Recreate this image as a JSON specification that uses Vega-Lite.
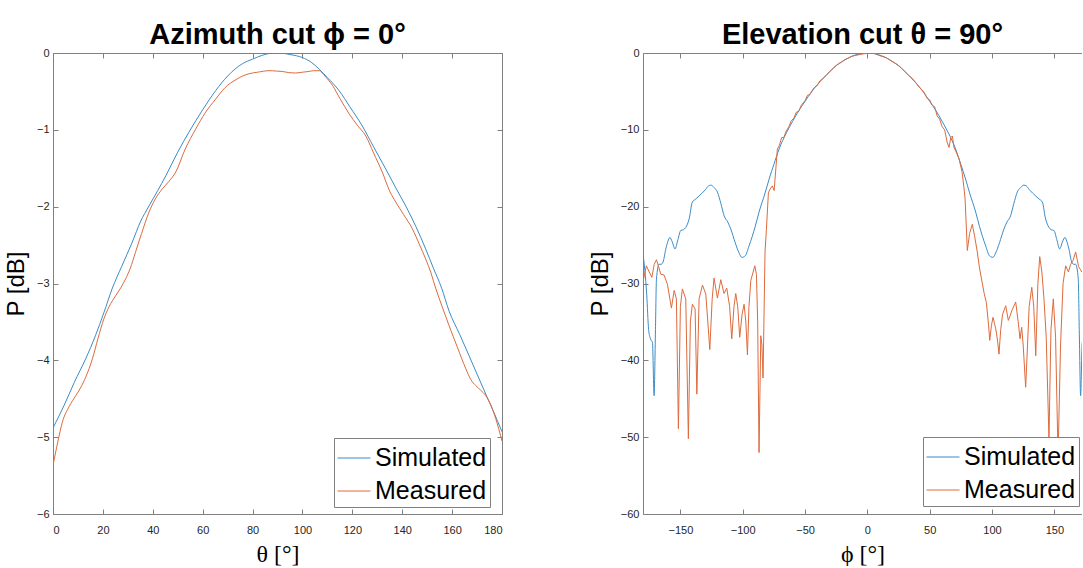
{
  "$schema": "https://vega.github.io/schema/vega-lite/v6.json",
  "background": "white",
  "padding": {"left": 4, "top": 21, "right": 0, "bottom": 0},
  "config": {
    "view": {"stroke": null},
    "font": "Liberation Sans",
    "axis": {"grid": false, "domainColor": "#808080", "tickColor": "#808080", "labelColor": "#262626", "labelFont": "Liberation Sans", "labelFontSize": 11, "tickSize": -5, "domainWidth": 1, "tickWidth": 1, "titleColor": "#000000", "titleFontWeight": "normal"},
    "title": {"fontSize": 29, "fontWeight": "bold", "color": "#000000", "font": "Liberation Sans", "offset": -3},
    "legend": {"orient": "none", "title": null, "symbolType": "stroke", "symbolSize": 1089, "symbolStrokeWidth": 1, "labelFontSize": 25, "labelFont": "Liberation Sans", "labelColor": "#000000", "fillColor": "#ffffff", "strokeColor": "#808080", "padding": 3, "rowPadding": 3, "labelOffset": 4}
  },
  "datasets": {
    "az": [
      {"theta": 0, "P": -4.88, "series": "Simulated"}, {"theta": 4.4, "P": -4.59, "series": "Simulated"}, {"theta": 8.5, "P": -4.29, "series": "Simulated"}, {"theta": 13.1, "P": -3.98, "series": "Simulated"}, {"theta": 17, "P": -3.68, "series": "Simulated"}, {"theta": 20.4, "P": -3.38, "series": "Simulated"}, {"theta": 23.8, "P": -3.06, "series": "Simulated"}, {"theta": 27.5, "P": -2.78, "series": "Simulated"}, {"theta": 31.8, "P": -2.46, "series": "Simulated"}, {"theta": 35, "P": -2.2, "series": "Simulated"}, {"theta": 38.5, "P": -1.99, "series": "Simulated"}, {"theta": 42, "P": -1.79, "series": "Simulated"}, {"theta": 45.2, "P": -1.6, "series": "Simulated"}, {"theta": 50, "P": -1.29, "series": "Simulated"}, {"theta": 54.5, "P": -1.03, "series": "Simulated"}, {"theta": 60, "P": -0.74, "series": "Simulated"}, {"theta": 65.2, "P": -0.49, "series": "Simulated"}, {"theta": 70, "P": -0.3, "series": "Simulated"}, {"theta": 75.9, "P": -0.14, "series": "Simulated"}, {"theta": 80, "P": -0.08, "series": "Simulated"}, {"theta": 83.9, "P": -0.03, "series": "Simulated"}, {"theta": 87, "P": -0.005, "series": "Simulated"}, {"theta": 90.6, "P": 0, "series": "Simulated"}, {"theta": 95, "P": -0.02, "series": "Simulated"}, {"theta": 100, "P": -0.06, "series": "Simulated"}, {"theta": 103.5, "P": -0.12, "series": "Simulated"}, {"theta": 106.7, "P": -0.21, "series": "Simulated"}, {"theta": 110, "P": -0.32, "series": "Simulated"}, {"theta": 114.7, "P": -0.49, "series": "Simulated"}, {"theta": 119, "P": -0.7, "series": "Simulated"}, {"theta": 124, "P": -0.95, "series": "Simulated"}, {"theta": 128.5, "P": -1.22, "series": "Simulated"}, {"theta": 133.4, "P": -1.51, "series": "Simulated"}, {"theta": 137.5, "P": -1.76, "series": "Simulated"}, {"theta": 141.4, "P": -1.99, "series": "Simulated"}, {"theta": 145.5, "P": -2.26, "series": "Simulated"}, {"theta": 149.4, "P": -2.55, "series": "Simulated"}, {"theta": 152.5, "P": -2.8, "series": "Simulated"}, {"theta": 155.8, "P": -3.06, "series": "Simulated"}, {"theta": 158.8, "P": -3.36, "series": "Simulated"}, {"theta": 163, "P": -3.66, "series": "Simulated"}, {"theta": 166.8, "P": -3.94, "series": "Simulated"}, {"theta": 170, "P": -4.18, "series": "Simulated"}, {"theta": 173.5, "P": -4.44, "series": "Simulated"}, {"theta": 176.5, "P": -4.66, "series": "Simulated"}, {"theta": 180, "P": -4.93, "series": "Simulated"},
      {"theta": 0, "P": -5.37, "series": "Measured"}, {"theta": 2, "P": -5.05, "series": "Measured"}, {"theta": 3.7, "P": -4.81, "series": "Measured"}, {"theta": 6.5, "P": -4.6, "series": "Measured"}, {"theta": 9.1, "P": -4.46, "series": "Measured"}, {"theta": 11, "P": -4.36, "series": "Measured"}, {"theta": 13.1, "P": -4.22, "series": "Measured"}, {"theta": 15.8, "P": -3.98, "series": "Measured"}, {"theta": 18, "P": -3.72, "series": "Measured"}, {"theta": 20.4, "P": -3.46, "series": "Measured"}, {"theta": 22.5, "P": -3.3, "series": "Measured"}, {"theta": 25.1, "P": -3.16, "series": "Measured"}, {"theta": 27.1, "P": -3.06, "series": "Measured"}, {"theta": 29.1, "P": -2.94, "series": "Measured"}, {"theta": 31, "P": -2.8, "series": "Measured"}, {"theta": 33, "P": -2.6, "series": "Measured"}, {"theta": 35.5, "P": -2.35, "series": "Measured"}, {"theta": 38.5, "P": -2.07, "series": "Measured"}, {"theta": 41, "P": -1.9, "series": "Measured"}, {"theta": 43.8, "P": -1.77, "series": "Measured"}, {"theta": 46.5, "P": -1.67, "series": "Measured"}, {"theta": 49.2, "P": -1.55, "series": "Measured"}, {"theta": 53, "P": -1.25, "series": "Measured"}, {"theta": 57.2, "P": -0.99, "series": "Measured"}, {"theta": 61, "P": -0.78, "series": "Measured"}, {"theta": 65.2, "P": -0.6, "series": "Measured"}, {"theta": 69, "P": -0.45, "series": "Measured"}, {"theta": 73.2, "P": -0.35, "series": "Measured"}, {"theta": 76, "P": -0.3, "series": "Measured"}, {"theta": 78.6, "P": -0.27, "series": "Measured"}, {"theta": 82, "P": -0.25, "series": "Measured"}, {"theta": 86.6, "P": -0.23, "series": "Measured"}, {"theta": 89.5, "P": -0.235, "series": "Measured"}, {"theta": 91.9, "P": -0.24, "series": "Measured"}, {"theta": 94.5, "P": -0.255, "series": "Measured"}, {"theta": 97.3, "P": -0.26, "series": "Measured"}, {"theta": 100, "P": -0.25, "series": "Measured"}, {"theta": 102.6, "P": -0.24, "series": "Measured"}, {"theta": 104.5, "P": -0.23, "series": "Measured"}, {"theta": 106.7, "P": -0.23, "series": "Measured"}, {"theta": 109, "P": -0.3, "series": "Measured"}, {"theta": 112, "P": -0.42, "series": "Measured"}, {"theta": 115, "P": -0.59, "series": "Measured"}, {"theta": 118.7, "P": -0.79, "series": "Measured"}, {"theta": 122, "P": -0.94, "series": "Measured"}, {"theta": 125.4, "P": -1.08, "series": "Measured"}, {"theta": 128.5, "P": -1.3, "series": "Measured"}, {"theta": 132, "P": -1.55, "series": "Measured"}, {"theta": 135, "P": -1.8, "series": "Measured"}, {"theta": 137.4, "P": -1.94, "series": "Measured"}, {"theta": 140.5, "P": -2.1, "series": "Measured"}, {"theta": 144.1, "P": -2.29, "series": "Measured"}, {"theta": 147, "P": -2.5, "series": "Measured"}, {"theta": 149.4, "P": -2.68, "series": "Measured"}, {"theta": 151.5, "P": -2.86, "series": "Measured"}, {"theta": 153.4, "P": -3.06, "series": "Measured"}, {"theta": 156, "P": -3.3, "series": "Measured"}, {"theta": 158.8, "P": -3.55, "series": "Measured"}, {"theta": 162, "P": -3.82, "series": "Measured"}, {"theta": 165.5, "P": -4.11, "series": "Measured"}, {"theta": 167.5, "P": -4.25, "series": "Measured"}, {"theta": 169.5, "P": -4.33, "series": "Measured"}, {"theta": 171.5, "P": -4.39, "series": "Measured"}, {"theta": 173.5, "P": -4.46, "series": "Measured"}, {"theta": 175.5, "P": -4.58, "series": "Measured"}, {"theta": 177.5, "P": -4.76, "series": "Measured"}, {"theta": 180, "P": -5.05, "series": "Measured"}
    ],
    "el": [
      {"phi": -180, "P": -26.2, "series": "Simulated"}, {"phi": -178.5, "P": -28.3, "series": "Simulated"}, {"phi": -177, "P": -31.5, "series": "Simulated"}, {"phi": -175.5, "P": -36.0, "series": "Simulated"}, {"phi": -174, "P": -37.2, "series": "Simulated"}, {"phi": -172.4, "P": -37.7, "series": "Simulated"}, {"phi": -171.1, "P": -44.6, "series": "Simulated"}, {"phi": -170, "P": -36, "series": "Simulated"}, {"phi": -169.2, "P": -29.4, "series": "Simulated"}, {"phi": -167.1, "P": -27.5, "series": "Simulated"}, {"phi": -165.5, "P": -27.5, "series": "Simulated"}, {"phi": -163.9, "P": -27.2, "series": "Simulated"}, {"phi": -161.7, "P": -25.5, "series": "Simulated"}, {"phi": -160, "P": -24.5, "series": "Simulated"}, {"phi": -158.5, "P": -24.0, "series": "Simulated"}, {"phi": -156.5, "P": -24.6, "series": "Simulated"}, {"phi": -154.3, "P": -25.5, "series": "Simulated"}, {"phi": -152, "P": -24.3, "series": "Simulated"}, {"phi": -149.7, "P": -23.1, "series": "Simulated"}, {"phi": -147.5, "P": -23.0, "series": "Simulated"}, {"phi": -145.7, "P": -22.7, "series": "Simulated"}, {"phi": -143, "P": -21.6, "series": "Simulated"}, {"phi": -140.4, "P": -19.4, "series": "Simulated"}, {"phi": -137.7, "P": -19.0, "series": "Simulated"}, {"phi": -135, "P": -18.6, "series": "Simulated"}, {"phi": -130, "P": -17.8, "series": "Simulated"}, {"phi": -127.5, "P": -17.3, "series": "Simulated"}, {"phi": -125.6, "P": -17.2, "series": "Simulated"}, {"phi": -123, "P": -17.5, "series": "Simulated"}, {"phi": -120.3, "P": -18.1, "series": "Simulated"}, {"phi": -117.5, "P": -19.6, "series": "Simulated"}, {"phi": -114.9, "P": -21.2, "series": "Simulated"}, {"phi": -112, "P": -22.0, "series": "Simulated"}, {"phi": -109.6, "P": -22.9, "series": "Simulated"}, {"phi": -106, "P": -24.7, "series": "Simulated"}, {"phi": -103, "P": -26.0, "series": "Simulated"}, {"phi": -100.7, "P": -26.6, "series": "Simulated"}, {"phi": -98, "P": -26.4, "series": "Simulated"}, {"phi": -94.9, "P": -25.1, "series": "Simulated"}, {"phi": -90, "P": -22.6, "series": "Simulated"}, {"phi": -86.9, "P": -20.7, "series": "Simulated"}, {"phi": -82, "P": -18.2, "series": "Simulated"}, {"phi": -78.8, "P": -16.4, "series": "Simulated"}, {"phi": -75, "P": -14.5, "series": "Simulated"}, {"phi": -70.8, "P": -12.5, "series": "Simulated"}, {"phi": -65, "P": -10.4, "series": "Simulated"}, {"phi": -60, "P": -8.9, "series": "Simulated"}, {"phi": -55, "P": -7.5, "series": "Simulated"}, {"phi": -50, "P": -6.3, "series": "Simulated"}, {"phi": -45, "P": -5.1, "series": "Simulated"}, {"phi": -40, "P": -4.1, "series": "Simulated"}, {"phi": -35, "P": -3.2, "series": "Simulated"}, {"phi": -30, "P": -2.4, "series": "Simulated"}, {"phi": -25, "P": -1.65, "series": "Simulated"}, {"phi": -20, "P": -1.1, "series": "Simulated"}, {"phi": -15, "P": -0.62, "series": "Simulated"}, {"phi": -10, "P": -0.28, "series": "Simulated"}, {"phi": -5, "P": -0.07, "series": "Simulated"}, {"phi": 0, "P": 0, "series": "Simulated"},
      {"phi": 5, "P": -0.07, "series": "Simulated"}, {"phi": 10, "P": -0.28, "series": "Simulated"}, {"phi": 15, "P": -0.62, "series": "Simulated"}, {"phi": 20, "P": -1.1, "series": "Simulated"}, {"phi": 25, "P": -1.65, "series": "Simulated"}, {"phi": 30, "P": -2.4, "series": "Simulated"}, {"phi": 35, "P": -3.2, "series": "Simulated"}, {"phi": 40, "P": -4.1, "series": "Simulated"}, {"phi": 45, "P": -5.1, "series": "Simulated"}, {"phi": 50, "P": -6.3, "series": "Simulated"}, {"phi": 55, "P": -7.5, "series": "Simulated"}, {"phi": 60, "P": -8.9, "series": "Simulated"}, {"phi": 65, "P": -10.4, "series": "Simulated"}, {"phi": 70.8, "P": -12.5, "series": "Simulated"}, {"phi": 75, "P": -14.5, "series": "Simulated"}, {"phi": 78.8, "P": -16.4, "series": "Simulated"}, {"phi": 82, "P": -18.2, "series": "Simulated"}, {"phi": 86.9, "P": -20.7, "series": "Simulated"}, {"phi": 90, "P": -22.6, "series": "Simulated"}, {"phi": 94.9, "P": -25.1, "series": "Simulated"}, {"phi": 98, "P": -26.4, "series": "Simulated"}, {"phi": 100.7, "P": -26.6, "series": "Simulated"}, {"phi": 103, "P": -26.0, "series": "Simulated"}, {"phi": 106, "P": -24.7, "series": "Simulated"}, {"phi": 109.6, "P": -22.9, "series": "Simulated"}, {"phi": 112, "P": -22.0, "series": "Simulated"}, {"phi": 114.9, "P": -21.2, "series": "Simulated"}, {"phi": 117.5, "P": -19.6, "series": "Simulated"}, {"phi": 120.3, "P": -18.1, "series": "Simulated"}, {"phi": 123, "P": -17.5, "series": "Simulated"}, {"phi": 125.6, "P": -17.2, "series": "Simulated"}, {"phi": 127.5, "P": -17.3, "series": "Simulated"}, {"phi": 130, "P": -17.8, "series": "Simulated"}, {"phi": 135, "P": -18.6, "series": "Simulated"}, {"phi": 137.7, "P": -19.0, "series": "Simulated"}, {"phi": 140.4, "P": -19.4, "series": "Simulated"}, {"phi": 143, "P": -21.6, "series": "Simulated"}, {"phi": 145.7, "P": -22.7, "series": "Simulated"}, {"phi": 147.5, "P": -23.0, "series": "Simulated"}, {"phi": 149.7, "P": -23.1, "series": "Simulated"}, {"phi": 152, "P": -24.3, "series": "Simulated"}, {"phi": 154.3, "P": -25.5, "series": "Simulated"}, {"phi": 156.5, "P": -24.6, "series": "Simulated"}, {"phi": 158.5, "P": -24.0, "series": "Simulated"}, {"phi": 160, "P": -24.5, "series": "Simulated"}, {"phi": 161.7, "P": -25.5, "series": "Simulated"}, {"phi": 163.9, "P": -27.2, "series": "Simulated"}, {"phi": 165.5, "P": -27.5, "series": "Simulated"}, {"phi": 167.1, "P": -27.5, "series": "Simulated"}, {"phi": 169.2, "P": -29.4, "series": "Simulated"}, {"phi": 170, "P": -36, "series": "Simulated"}, {"phi": 171.1, "P": -44.6, "series": "Simulated"}, {"phi": 172.4, "P": -37.7, "series": "Simulated"}, {"phi": 174, "P": -37.2, "series": "Simulated"}, {"phi": 175.5, "P": -36.0, "series": "Simulated"},
      {"phi": -180, "P": -29.8, "series": "Measured"}, {"phi": -177.3, "P": -27.7, "series": "Measured"}, {"phi": -175, "P": -28.5, "series": "Measured"}, {"phi": -172.9, "P": -29.2, "series": "Measured"}, {"phi": -171, "P": -27.5, "series": "Measured"}, {"phi": -169.2, "P": -26.9, "series": "Measured"}, {"phi": -167.5, "P": -27.8, "series": "Measured"}, {"phi": -165.7, "P": -28.8, "series": "Measured"}, {"phi": -163.1, "P": -28.9, "series": "Measured"}, {"phi": -160.4, "P": -30.1, "series": "Measured"}, {"phi": -157.2, "P": -33.2, "series": "Measured"}, {"phi": -155, "P": -30.9, "series": "Measured"}, {"phi": -153.2, "P": -32.0, "series": "Measured"}, {"phi": -151.6, "P": -48.9, "series": "Measured"}, {"phi": -150, "P": -33, "series": "Measured"}, {"phi": -148.4, "P": -30.7, "series": "Measured"}, {"phi": -145.7, "P": -32.0, "series": "Measured"}, {"phi": -143.6, "P": -50.2, "series": "Measured"}, {"phi": -142, "P": -35, "series": "Measured"}, {"phi": -140.4, "P": -32.7, "series": "Measured"}, {"phi": -138.2, "P": -33.3, "series": "Measured"}, {"phi": -136.8, "P": -44.4, "series": "Measured"}, {"phi": -135, "P": -32.0, "series": "Measured"}, {"phi": -132.3, "P": -30.2, "series": "Measured"}, {"phi": -129.6, "P": -31.4, "series": "Measured"}, {"phi": -126.4, "P": -38.6, "series": "Measured"}, {"phi": -124.5, "P": -32, "series": "Measured"}, {"phi": -123, "P": -29.3, "series": "Measured"}, {"phi": -120.3, "P": -31.9, "series": "Measured"}, {"phi": -117.6, "P": -29.5, "series": "Measured"}, {"phi": -115, "P": -31.3, "series": "Measured"}, {"phi": -112.8, "P": -30.6, "series": "Measured"}, {"phi": -110.5, "P": -33, "series": "Measured"}, {"phi": -108.8, "P": -37.2, "series": "Measured"}, {"phi": -107, "P": -33, "series": "Measured"}, {"phi": -105.6, "P": -31.3, "series": "Measured"}, {"phi": -104, "P": -33, "series": "Measured"}, {"phi": -102.4, "P": -37.0, "series": "Measured"}, {"phi": -100.5, "P": -34, "series": "Measured"}, {"phi": -98.9, "P": -32.7, "series": "Measured"}, {"phi": -97.5, "P": -35, "series": "Measured"}, {"phi": -96.2, "P": -39.3, "series": "Measured"}, {"phi": -95, "P": -33, "series": "Measured"}, {"phi": -93.5, "P": -29.6, "series": "Measured"}, {"phi": -90.3, "P": -27.7, "series": "Measured"}, {"phi": -89, "P": -28.8, "series": "Measured"}, {"phi": -88, "P": -35, "series": "Measured"}, {"phi": -86.9, "P": -52.0, "series": "Measured"}, {"phi": -85.5, "P": -36.8, "series": "Measured"}, {"phi": -84.6, "P": -38, "series": "Measured"}, {"phi": -83.7, "P": -42.3, "series": "Measured"}, {"phi": -82.1, "P": -25.9, "series": "Measured"}, {"phi": -81, "P": -23, "series": "Measured"}, {"phi": -79.4, "P": -18.2, "series": "Measured"}, {"phi": -78, "P": -17.7, "series": "Measured"}, {"phi": -76.2, "P": -17.3, "series": "Measured"}, {"phi": -74.8, "P": -17.9, "series": "Measured"}, {"phi": -72.2, "P": -12.5, "series": "Measured"}, {"phi": -70.8, "P": -12.1, "series": "Measured"}, {"phi": -68.7, "P": -11.0, "series": "Measured"}, {"phi": -67, "P": -11.0, "series": "Measured"}, {"phi": -65.5, "P": -10.3, "series": "Measured"}, {"phi": -63, "P": -9.6, "series": "Measured"}, {"phi": -61, "P": -8.8, "series": "Measured"}, {"phi": -59, "P": -8.5, "series": "Measured"}, {"phi": -57, "P": -7.7, "series": "Measured"}, {"phi": -55, "P": -7.6, "series": "Measured"}, {"phi": -53, "P": -6.8, "series": "Measured"}, {"phi": -50, "P": -6.2, "series": "Measured"}, {"phi": -48, "P": -5.5, "series": "Measured"}, {"phi": -46, "P": -5.4, "series": "Measured"}, {"phi": -44, "P": -4.8, "series": "Measured"}, {"phi": -42, "P": -4.4, "series": "Measured"}, {"phi": -40, "P": -4.2, "series": "Measured"}, {"phi": -38, "P": -3.6, "series": "Measured"}, {"phi": -36, "P": -3.4, "series": "Measured"}, {"phi": -33, "P": -2.9, "series": "Measured"}, {"phi": -30, "P": -2.4, "series": "Measured"}, {"phi": -27, "P": -1.9, "series": "Measured"}, {"phi": -24, "P": -1.5, "series": "Measured"}, {"phi": -21, "P": -1.2, "series": "Measured"}, {"phi": -18, "P": -0.85, "series": "Measured"}, {"phi": -15, "P": -0.65, "series": "Measured"}, {"phi": -12, "P": -0.4, "series": "Measured"}, {"phi": -9, "P": -0.3, "series": "Measured"}, {"phi": -6, "P": -0.2, "series": "Measured"}, {"phi": -3, "P": -0.1, "series": "Measured"}, {"phi": 0, "P": -0.05, "series": "Measured"}, {"phi": 3, "P": 0, "series": "Measured"}, {"phi": 6, "P": -0.05, "series": "Measured"}, {"phi": 9, "P": -0.3, "series": "Measured"}, {"phi": 12, "P": -0.45, "series": "Measured"}, {"phi": 15, "P": -0.6, "series": "Measured"}, {"phi": 18, "P": -0.9, "series": "Measured"}, {"phi": 21, "P": -1.2, "series": "Measured"}, {"phi": 24, "P": -1.5, "series": "Measured"}, {"phi": 27, "P": -1.9, "series": "Measured"}, {"phi": 30, "P": -2.4, "series": "Measured"}, {"phi": 33, "P": -2.9, "series": "Measured"}, {"phi": 36, "P": -3.3, "series": "Measured"}, {"phi": 39, "P": -3.9, "series": "Measured"}, {"phi": 42, "P": -4.5, "series": "Measured"}, {"phi": 45, "P": -5.0, "series": "Measured"}, {"phi": 48, "P": -5.9, "series": "Measured"}, {"phi": 50, "P": -6.1, "series": "Measured"}, {"phi": 52, "P": -6.8, "series": "Measured"}, {"phi": 54, "P": -7.0, "series": "Measured"}, {"phi": 56, "P": -8.2, "series": "Measured"}, {"phi": 58, "P": -8.6, "series": "Measured"}, {"phi": 60, "P": -9.6, "series": "Measured"}, {"phi": 62, "P": -10.0, "series": "Measured"}, {"phi": 64, "P": -11.6, "series": "Measured"}, {"phi": 65.5, "P": -12.3, "series": "Measured"}, {"phi": 67, "P": -11.0, "series": "Measured"}, {"phi": 68.2, "P": -10.8, "series": "Measured"}, {"phi": 69.5, "P": -12.3, "series": "Measured"}, {"phi": 71, "P": -12.8, "series": "Measured"}, {"phi": 73.6, "P": -13.8, "series": "Measured"}, {"phi": 76, "P": -15.5, "series": "Measured"}, {"phi": 77.6, "P": -17.7, "series": "Measured"}, {"phi": 78.4, "P": -19.0, "series": "Measured"}, {"phi": 80.2, "P": -25.7, "series": "Measured"}, {"phi": 82, "P": -23.5, "series": "Measured"}, {"phi": 84.2, "P": -22.3, "series": "Measured"}, {"phi": 86, "P": -23.8, "series": "Measured"}, {"phi": 88.2, "P": -25.9, "series": "Measured"}, {"phi": 90, "P": -28.0, "series": "Measured"}, {"phi": 93.6, "P": -31.2, "series": "Measured"}, {"phi": 95.5, "P": -32.5, "series": "Measured"}, {"phi": 97, "P": -35, "series": "Measured"}, {"phi": 98.2, "P": -37.4, "series": "Measured"}, {"phi": 99.5, "P": -35.5, "series": "Measured"}, {"phi": 100.8, "P": -34.4, "series": "Measured"}, {"phi": 102, "P": -35.2, "series": "Measured"}, {"phi": 103, "P": -35.9, "series": "Measured"}, {"phi": 104.5, "P": -37.5, "series": "Measured"}, {"phi": 105.6, "P": -39.2, "series": "Measured"}, {"phi": 107, "P": -36, "series": "Measured"}, {"phi": 108.5, "P": -34, "series": "Measured"}, {"phi": 111, "P": -32.9, "series": "Measured"}, {"phi": 113.1, "P": -34.8, "series": "Measured"}, {"phi": 114.5, "P": -34.2, "series": "Measured"}, {"phi": 116, "P": -33.5, "series": "Measured"}, {"phi": 119, "P": -32.4, "series": "Measured"}, {"phi": 121, "P": -35, "series": "Measured"}, {"phi": 122.5, "P": -37.2, "series": "Measured"}, {"phi": 123.8, "P": -35.7, "series": "Measured"}, {"phi": 125, "P": -38, "series": "Measured"}, {"phi": 127, "P": -43.5, "series": "Measured"}, {"phi": 128.5, "P": -38, "series": "Measured"}, {"phi": 129.8, "P": -33, "series": "Measured"}, {"phi": 131.9, "P": -30.5, "series": "Measured"}, {"phi": 133.5, "P": -33, "series": "Measured"}, {"phi": 135.1, "P": -39.4, "series": "Measured"}, {"phi": 136.8, "P": -30, "series": "Measured"}, {"phi": 138.3, "P": -26.5, "series": "Measured"}, {"phi": 140, "P": -28.5, "series": "Measured"}, {"phi": 141.7, "P": -32.0, "series": "Measured"}, {"phi": 143.5, "P": -37, "series": "Measured"}, {"phi": 145.7, "P": -50.2, "series": "Measured"}, {"phi": 147.3, "P": -36, "series": "Measured"}, {"phi": 149.2, "P": -32.0, "series": "Measured"}, {"phi": 151, "P": -37, "series": "Measured"}, {"phi": 153, "P": -52.5, "series": "Measured"}, {"phi": 155, "P": -38, "series": "Measured"}, {"phi": 157, "P": -30, "series": "Measured"}, {"phi": 159.1, "P": -27.7, "series": "Measured"}, {"phi": 161.3, "P": -28.5, "series": "Measured"}, {"phi": 163.1, "P": -27.5, "series": "Measured"}, {"phi": 165, "P": -27, "series": "Measured"}, {"phi": 167.1, "P": -25.9, "series": "Measured"}, {"phi": 169.5, "P": -27.8, "series": "Measured"}, {"phi": 172, "P": -28.5, "series": "Measured"}, {"phi": 175, "P": -28.8, "series": "Measured"}
    ]
  },
  "bounds": "flush",
  "spacing": 141,
  "resolve": {"scale": {"color": "independent"}, "legend": {"color": "independent"}},
  "hconcat": [
    {
      "width": 449,
      "height": 461,
      "title": {"text": "Azimuth cut ϕ = 0°"},
      "data": {"name": "az"},
      "layer": [
        {
          "transform": [{"filter": "datum.series == 'Simulated'"}],
          "mark": {"type": "line", "strokeWidth": 1, "clip": true, "interpolate": "monotone"},
          "encoding": {
            "x": {"field": "theta", "type": "quantitative", "scale": {"domain": [0, 180], "nice": false, "zero": false},
                  "axis": {"orient": "bottom", "values": [0, 20, 40, 60, 80, 100, 120, 140, 160, 180], "labelPadding": 15, "title": "θ [°]", "titleFont": "Liberation Serif", "titleFontSize": 24, "titlePadding": 7}},
            "y": {"field": "P", "type": "quantitative", "scale": {"domain": [-6, 0], "nice": false, "zero": false},
                  "axis": {"orient": "left", "values": [-6, -5, -4, -3, -2, -1, 0], "labelPadding": 9, "title": "P [dB]", "titleFontSize": 24, "titlePadding": 8}},
            "color": {"field": "series", "type": "nominal", "scale": {"domain": ["Simulated", "Measured"], "range": ["#3A8CC8", "#DE6A3C"]},
                      "legend": {"legendX": 281, "legendY": 385}}
          }
        },
        {
          "transform": [{"filter": "datum.series == 'Measured'"}],
          "mark": {"type": "line", "strokeWidth": 1, "clip": true, "interpolate": "monotone"},
          "encoding": {
            "x": {"field": "theta", "type": "quantitative", "scale": {"domain": [0, 180], "nice": false, "zero": false},
                  "axis": {"orient": "top", "values": [0, 20, 40, 60, 80, 100, 120, 140, 160, 180], "labels": false, "title": null}},
            "y": {"field": "P", "type": "quantitative", "scale": {"domain": [-6, 0], "nice": false, "zero": false},
                  "axis": {"orient": "right", "values": [-6, -5, -4, -3, -2, -1, 0], "labels": false, "title": null}},
            "color": {"field": "series", "type": "nominal", "scale": {"domain": ["Simulated", "Measured"], "range": ["#3A8CC8", "#DE6A3C"]},
                      "legend": {"legendX": 281, "legendY": 385}}
          }
        }
      ],
      "resolve": {"axis": {"x": "independent", "y": "independent"}}
    },
    {
      "width": 439,
      "height": 461,
      "title": {"text": "Elevation cut θ = 90°"},
      "data": {"name": "el"},
      "layer": [
        {
          "transform": [{"filter": "datum.series == 'Simulated'"}],
          "mark": {"type": "line", "strokeWidth": 1, "clip": true, "interpolate": "monotone"},
          "encoding": {
            "x": {"field": "phi", "type": "quantitative", "scale": {"domain": [-180, 172.2], "nice": false, "zero": false},
                  "axis": {"orient": "bottom", "values": [-150, -100, -50, 0, 50, 100, 150], "labelPadding": 15, "title": "ϕ [°]", "titleFont": "Liberation Serif", "titleFontSize": 24, "titlePadding": 7}},
            "y": {"field": "P", "type": "quantitative", "scale": {"domain": [-60, 0], "nice": false, "zero": false},
                  "axis": {"orient": "left", "values": [-60, -50, -40, -30, -20, -10, 0], "labelPadding": 9, "title": "P [dB]", "titleFontSize": 24, "titlePadding": 8}},
            "color": {"field": "series", "type": "nominal", "scale": {"domain": ["Simulated", "Measured"], "range": ["#3A8CC8", "#DE6A3C"]},
                      "legend": {"legendX": 280, "legendY": 384}}
          }
        },
        {
          "transform": [{"filter": "datum.series == 'Measured'"}],
          "mark": {"type": "line", "strokeWidth": 1, "clip": true, "interpolate": "linear"},
          "encoding": {
            "x": {"field": "phi", "type": "quantitative", "scale": {"domain": [-180, 172.2], "nice": false, "zero": false},
                  "axis": {"orient": "top", "values": [-150, -100, -50, 0, 50, 100, 150], "labels": false, "title": null}},
            "y": {"field": "P", "type": "quantitative", "scale": {"domain": [-60, 0], "nice": false, "zero": false}, "axis": null},
            "color": {"field": "series", "type": "nominal", "scale": {"domain": ["Simulated", "Measured"], "range": ["#3A8CC8", "#DE6A3C"]},
                      "legend": {"legendX": 280, "legendY": 384}}
          }
        }
      ],
      "resolve": {"axis": {"x": "independent", "y": "independent"}}
    }
  ]
}
